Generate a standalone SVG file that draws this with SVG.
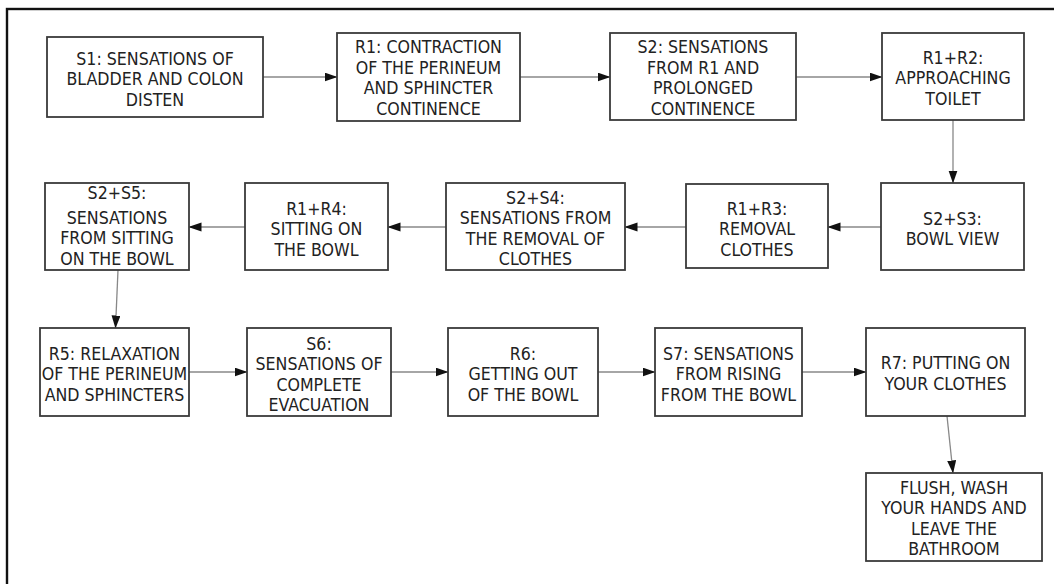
<svg xmlns="http://www.w3.org/2000/svg" width="1054" height="584" viewBox="0 0 1054 584">
<style>
.box{fill:#fff;stroke:#3a3a3a;stroke-width:1.8}
.t{font-family:"DejaVu Sans Condensed","DejaVu Sans",Verdana,sans-serif;font-stretch:condensed;font-size:17.6px;fill:#222;text-anchor:middle}
.c{stroke:#888;stroke-width:1.3;fill:none;marker-end:url(#ah)}
</style>
<defs>
<marker id="ah" markerUnits="userSpaceOnUse" markerWidth="13" markerHeight="10" refX="12.5" refY="4.5" orient="auto">
<path d="M0,0 L13,4.5 L0,9 z" fill="#111"/>
</marker>
</defs>
<rect x="0" y="0" width="1054" height="584" fill="#fff"/>
<rect x="7" y="9" width="1100" height="620" fill="none" stroke="#111" stroke-width="2.4"/>

<g id="connectors">
<line class="c" x1="263" y1="77" x2="337" y2="77"/>
<line class="c" x1="520" y1="77" x2="610" y2="77"/>
<line class="c" x1="796" y1="77" x2="882" y2="77"/>
<line class="c" x1="953" y1="120" x2="953" y2="183"/>
<line class="c" x1="881" y1="227" x2="828" y2="227"/>
<line class="c" x1="686" y1="227" x2="625" y2="227"/>
<line class="c" x1="446" y1="227" x2="388" y2="227"/>
<line class="c" x1="245" y1="227" x2="189" y2="227"/>
<line class="c" x1="118" y1="270" x2="115.5" y2="328"/>
<line class="c" x1="189" y1="372" x2="247" y2="372"/>
<line class="c" x1="391" y1="372" x2="448" y2="372"/>
<line class="c" x1="598" y1="372" x2="655" y2="372"/>
<line class="c" x1="802" y1="372" x2="866" y2="372"/>
<line class="c" x1="947" y1="416" x2="953" y2="473"/>
</g>

<g id="S1"><rect class="box" x="47" y="37" width="216" height="80"/>
<text class="t" x="155" y="64.5">S1: SENSATIONS OF</text><text class="t" x="155" y="85">BLADDER AND COLON</text><text class="t" x="155" y="105.5">DISTEN</text></g>

<g id="R1"><rect class="box" x="337" y="33" width="183" height="88"/>
<text class="t" x="428.5" y="53">R1: CONTRACTION</text><text class="t" x="428.5" y="73.5">OF THE PERINEUM</text><text class="t" x="428.5" y="94">AND SPHINCTER</text><text class="t" x="428.5" y="114.5">CONTINENCE</text></g>

<g id="S2"><rect class="box" x="610" y="33" width="186" height="87"/>
<text class="t" x="703" y="53">S2: SENSATIONS</text><text class="t" x="703" y="73.5">FROM R1 AND</text><text class="t" x="703" y="94">PROLONGED</text><text class="t" x="703" y="114.5">CONTINENCE</text></g>

<g id="R1R2"><rect class="box" x="882" y="33" width="142" height="87"/>
<text class="t" x="953" y="63.5">R1+R2:</text><text class="t" x="953" y="84">APPROACHING</text><text class="t" x="953" y="104.5">TOILET</text></g>

<g id="S2S3"><rect class="box" x="881" y="183" width="143" height="87"/>
<text class="t" x="952.5" y="224.5">S2+S3:</text><text class="t" x="952.5" y="244.5">BOWL VIEW</text></g>

<g id="R1R3"><rect class="box" x="686" y="184" width="142" height="84"/>
<text class="t" x="757" y="214.5">R1+R3:</text><text class="t" x="757" y="235">REMOVAL</text><text class="t" x="757" y="255.5">CLOTHES</text></g>

<g id="S2S4"><rect class="box" x="446" y="183" width="179" height="87"/>
<text class="t" x="535.5" y="203.5">S2+S4:</text><text class="t" x="535.5" y="224">SENSATIONS FROM</text><text class="t" x="535.5" y="244.5">THE REMOVAL OF</text><text class="t" x="535.5" y="265">CLOTHES</text></g>

<g id="R1R4"><rect class="box" x="245" y="183" width="143" height="87"/>
<text class="t" x="316.5" y="214.5">R1+R4:</text><text class="t" x="316.5" y="235">SITTING ON</text><text class="t" x="316.5" y="255.5">THE BOWL</text></g>

<g id="S2S5"><rect class="box" x="45" y="183" width="144" height="87"/>
<text class="t" x="117" y="198.5">S2+S5:</text><text class="t" x="117" y="223.5">SENSATIONS</text><text class="t" x="117" y="244">FROM SITTING</text><text class="t" x="117" y="264.5">ON THE BOWL</text></g>

<g id="R5"><rect class="box" x="40" y="328" width="149" height="88"/>
<text class="t" x="114.5" y="359.5">R5: RELAXATION</text><text class="t" x="114.5" y="380">OF THE PERINEUM</text><text class="t" x="114.5" y="400.5">AND SPHINCTERS</text></g>

<g id="S6"><rect class="box" x="247" y="328" width="144" height="88"/>
<text class="t" x="319" y="349.5">S6:</text><text class="t" x="319" y="370">SENSATIONS OF</text><text class="t" x="319" y="390.5">COMPLETE</text><text class="t" x="319" y="411">EVACUATION</text></g>

<g id="R6"><rect class="box" x="448" y="328" width="150" height="88"/>
<text class="t" x="523" y="359.5">R6:</text><text class="t" x="523" y="380">GETTING OUT</text><text class="t" x="523" y="400.5">OF THE BOWL</text></g>

<g id="S7"><rect class="box" x="655" y="328" width="147" height="88"/>
<text class="t" x="728.5" y="359.5">S7: SENSATIONS</text><text class="t" x="728.5" y="380">FROM RISING</text><text class="t" x="728.5" y="400.5">FROM THE BOWL</text></g>

<g id="R7"><rect class="box" x="866" y="328" width="159" height="88"/>
<text class="t" x="945.5" y="369">R7: PUTTING ON</text><text class="t" x="945.5" y="389.5">YOUR CLOTHES</text></g>

<g id="FINAL"><rect class="box" x="866" y="473" width="176" height="88"/>
<text class="t" x="954" y="493.5">FLUSH, WASH</text><text class="t" x="954" y="514">YOUR HANDS AND</text><text class="t" x="954" y="534.5">LEAVE THE</text><text class="t" x="954" y="555">BATHROOM</text></g>
</svg>
